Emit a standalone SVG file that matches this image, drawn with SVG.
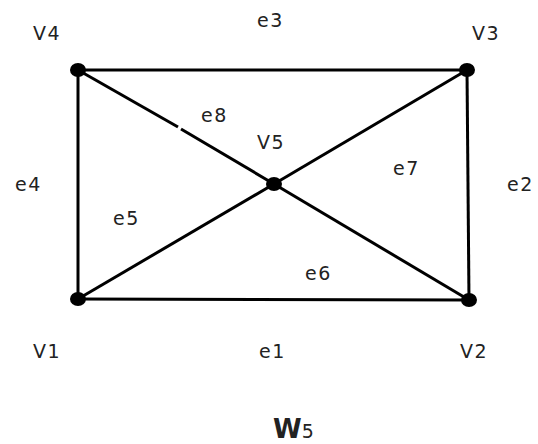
<svg xmlns="http://www.w3.org/2000/svg" width="538" height="444" viewBox="0 0 538 444">
<style>
.e{stroke:#000;stroke-width:3;fill:none;stroke-linecap:butt}
.n{fill:#000}
text{font-family:"DejaVu Sans","Open Sans",sans-serif;font-size:19px;fill:#222;letter-spacing:1.5px}
</style>
<rect width="538" height="444" fill="#fff"/>
<g id="connectors">
<line class="e" x1="78" y1="70" x2="467" y2="70"/>
<line class="e" x1="78" y1="70" x2="78" y2="299"/>
<line class="e" x1="467" y1="70" x2="469" y2="300"/>
<line class="e" x1="78" y1="299" x2="469" y2="300"/>
<line class="e" x1="78" y1="70" x2="178" y2="127"/>
<line class="e" x1="181" y1="129" x2="274" y2="184"/>
<line class="e" x1="467" y1="70" x2="274" y2="184"/>
<line class="e" x1="78" y1="299" x2="274" y2="184"/>
<line class="e" x1="469" y1="300" x2="274" y2="184"/>
</g>
<g id="V1"><ellipse class="n" cx="78" cy="299" rx="8" ry="7"/><text x="33" y="358">V1</text></g>
<g id="V2"><ellipse class="n" cx="469" cy="300" rx="8" ry="7"/><text x="460" y="358">V2</text></g>
<g id="V3"><ellipse class="n" cx="467" cy="70" rx="8" ry="7"/><text x="472" y="40">V3</text></g>
<g id="V4"><ellipse class="n" cx="78" cy="70" rx="8" ry="7"/><text x="33" y="40">V4</text></g>
<g id="V5"><ellipse class="n" cx="274" cy="184" rx="8" ry="7"/><text x="257" y="149">V5</text></g>
<g id="labels">
<text x="259" y="358">e1</text>
<text x="507" y="191">e2</text>
<text x="257" y="27">e3</text>
<text x="15" y="191">e4</text>
<text x="113" y="225">e5</text>
<text x="305" y="280">e6</text>
<text x="393" y="175">e7</text>
<text x="201" y="122">e8</text>
<text x="273" y="438" style="font-weight:bold;font-size:26px;letter-spacing:0">W<tspan style="font-size:19px;font-weight:normal">5</tspan></text>
</g>
</svg>
